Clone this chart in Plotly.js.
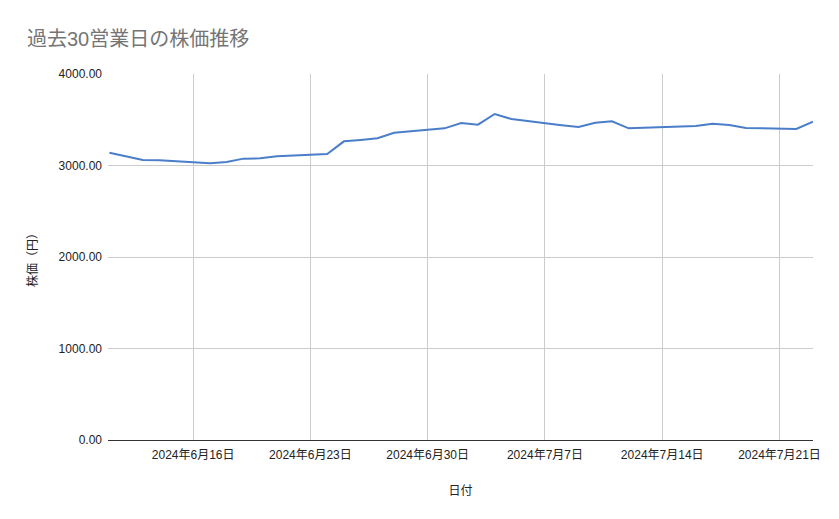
<!DOCTYPE html>
<html>
<head>
<meta charset="utf-8">
<script src="https://cdn.plot.ly/plotly-3.0.1.min.js"></script>
<style>html,body{margin:0;padding:0;background:#fff;}#chart{width:839px;height:519px;}</style>
</head>
<body>
<div id="chart"></div>
<script>
const dates = [
  '2024-06-11','2024-06-12','2024-06-13','2024-06-14',
  '2024-06-17','2024-06-18','2024-06-19','2024-06-20','2024-06-21',
  '2024-06-24','2024-06-25','2024-06-26','2024-06-27','2024-06-28',
  '2024-07-01','2024-07-02','2024-07-03','2024-07-04','2024-07-05',
  '2024-07-08','2024-07-09','2024-07-10','2024-07-11','2024-07-12',
  '2024-07-16','2024-07-17','2024-07-18','2024-07-19',
  '2024-07-22','2024-07-23'
];
const prices = [
  3140, 3100, 3060, 3057,
  3024, 3038, 3075, 3078, 3100,
  3125, 3264, 3279, 3297, 3358,
  3406, 3464, 3446, 3563, 3508,
  3440, 3421, 3468, 3483, 3406,
  3432, 3457, 3443, 3410,
  3399, 3478
];
const xTickVals = ['2024-06-16','2024-06-23','2024-06-30','2024-07-07','2024-07-14','2024-07-21'];
const xTickText = ['2024年6月16日','2024年6月23日','2024年6月30日','2024年7月7日','2024年7月14日','2024年7月21日'];
const yTickVals = [0, 1000, 2000, 3000, 4000];

const FONT = '"Liberation Sans", Arial, "Noto Sans CJK JP", sans-serif';

Plotly.newPlot('chart', [{
  x: dates,
  y: prices,
  type: 'scatter',
  mode: 'lines',
  line: {color: '#4a7ec9', width: 2},
  hoverinfo: 'x+y'
}], {
  width: 839, height: 519,
  margin: {l: 108, r: 26, t: 74, b: 79},
  paper_bgcolor: '#fff', plot_bgcolor: '#fff',
  font: {family: FONT, size: 12, color: '#222'},
  showlegend: false,
  title: {
    text: '過去30営業日の株価推移',
    font: {family: FONT, size: 20, color: '#757575'},
    xref: 'container', x: 27/839, xanchor: 'left',
    yref: 'container', y: 1 - 39/519, yanchor: 'middle'
  },
  xaxis: {
    type: 'date',
    range: ['2024-06-10 22:00', '2024-07-23'],
    tickmode: 'array', tickvals: xTickVals, ticktext: xTickText,
    showgrid: true, gridcolor: '#cccccc', gridwidth: 1,
    showline: true, linecolor: '#333333', linewidth: 1.3,
    ticks: '', zeroline: false, ticklabelstandoff: 3,
    tickfont: {family: FONT, size: 12, color: '#222'},
    title: {text: '日付', font: {family: FONT, size: 12, color: '#222'}, standoff: 26}
  },
  yaxis: {
    range: [0, 4000],
    tickmode: 'array', tickvals: yTickVals, tickformat: '.2f',
    showgrid: true, gridcolor: '#cccccc', gridwidth: 1,
    showline: false, zeroline: false, ticks: '', ticklabelstandoff: 5,
    tickfont: {family: FONT, size: 12, color: '#222'},
    title: {text: '株価（円）', font: {family: FONT, size: 12, color: '#222'}, standoff: 18}
  }
}, {displayModeBar: false, staticPlot: true});
</script>
</body>
</html>
